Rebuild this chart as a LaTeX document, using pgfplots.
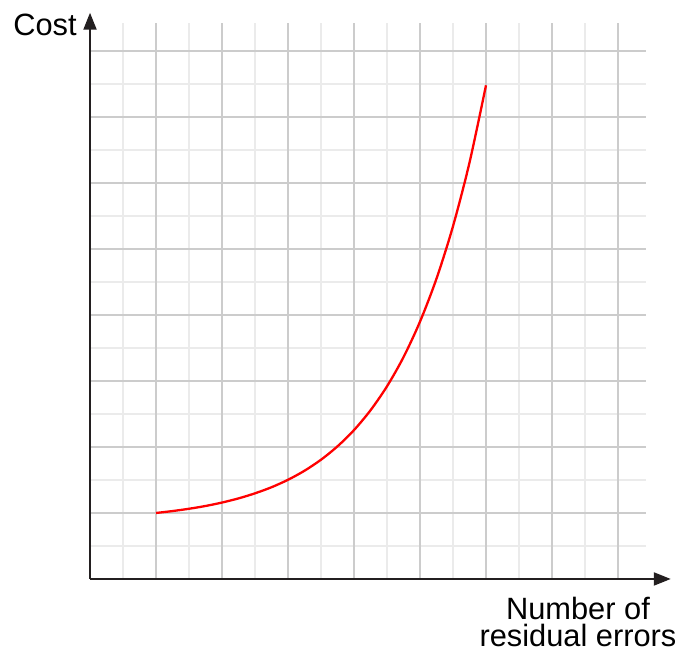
\documentclass[border=0pt]{standalone}
\usepackage{fontspec}
\setmainfont{Liberation Sans}
\usepackage{pgfplots}
\pgfplotsset{compat=1.18}
\usetikzlibrary{arrows.meta}

\definecolor{axisdark}{HTML}{231F20}
\definecolor{gridmajor}{HTML}{CCCCCC}
\definecolor{gridminor}{HTML}{EBEBEB}

\begin{document}
\begin{tikzpicture}
\begin{axis}[
  x=33pt, y=33pt,
  xmin=0, xmax=8.80, ymin=0, ymax=8.58,
  axis lines=left,
  axis line style={axisdark, line width=1pt, -{Triangle[length=8.5pt,width=6.5pt]}},
  xtick=\empty, ytick=\empty,
  clip=false,
  axis on top,
]
  % frame that sets the size of the page
  \path (axis cs:-1.364,-1.152) rectangle (axis cs:8.970,8.773);

  % light minor grid
  \pgfplotsinvokeforeach{0.5,1.5,2.5,3.5,4.5,5.5,6.5,7.5}{
    \draw[gridminor, line width=1pt] (axis cs:#1,0) -- (axis cs:#1,8.42);
    \draw[gridminor, line width=1pt] (axis cs:0,#1) -- (axis cs:8.42,#1);
  }
  % major grid
  \pgfplotsinvokeforeach{1,2,3,4,5,6,7,8}{
    \draw[gridmajor, line width=1pt] (axis cs:#1,0) -- (axis cs:#1,8.42);
    \draw[gridmajor, line width=1pt] (axis cs:0,#1) -- (axis cs:8.42,#1);
  }

  \addplot[red, line width=1.15pt, smooth] coordinates {
    (1.00,1.000) (1.25,1.029) (1.50,1.064) (1.75,1.106) (2.00,1.158)
    (2.25,1.221) (2.50,1.298) (2.75,1.390) (3.00,1.503) (3.25,1.640)
    (3.50,1.807) (3.75,2.010) (4.00,2.256) (4.25,2.556) (4.50,2.919)
    (4.75,3.361) (5.00,3.899) (5.25,4.551) (5.50,5.345) (5.75,6.309)
    (6.00,7.480)
  };

  \node[anchor=base east, font=\fontsize{15.4}{18}\selectfont, inner sep=0pt]
    at (axis cs:-0.197,8.242) {Cost};
  \node[anchor=base, align=center, font=\fontsize{15.4}{13.5}\selectfont, inner sep=0pt]
    at (axis cs:7.394,-1.030) {Number of\\residual errors};
\end{axis}
\end{tikzpicture}
\end{document}
